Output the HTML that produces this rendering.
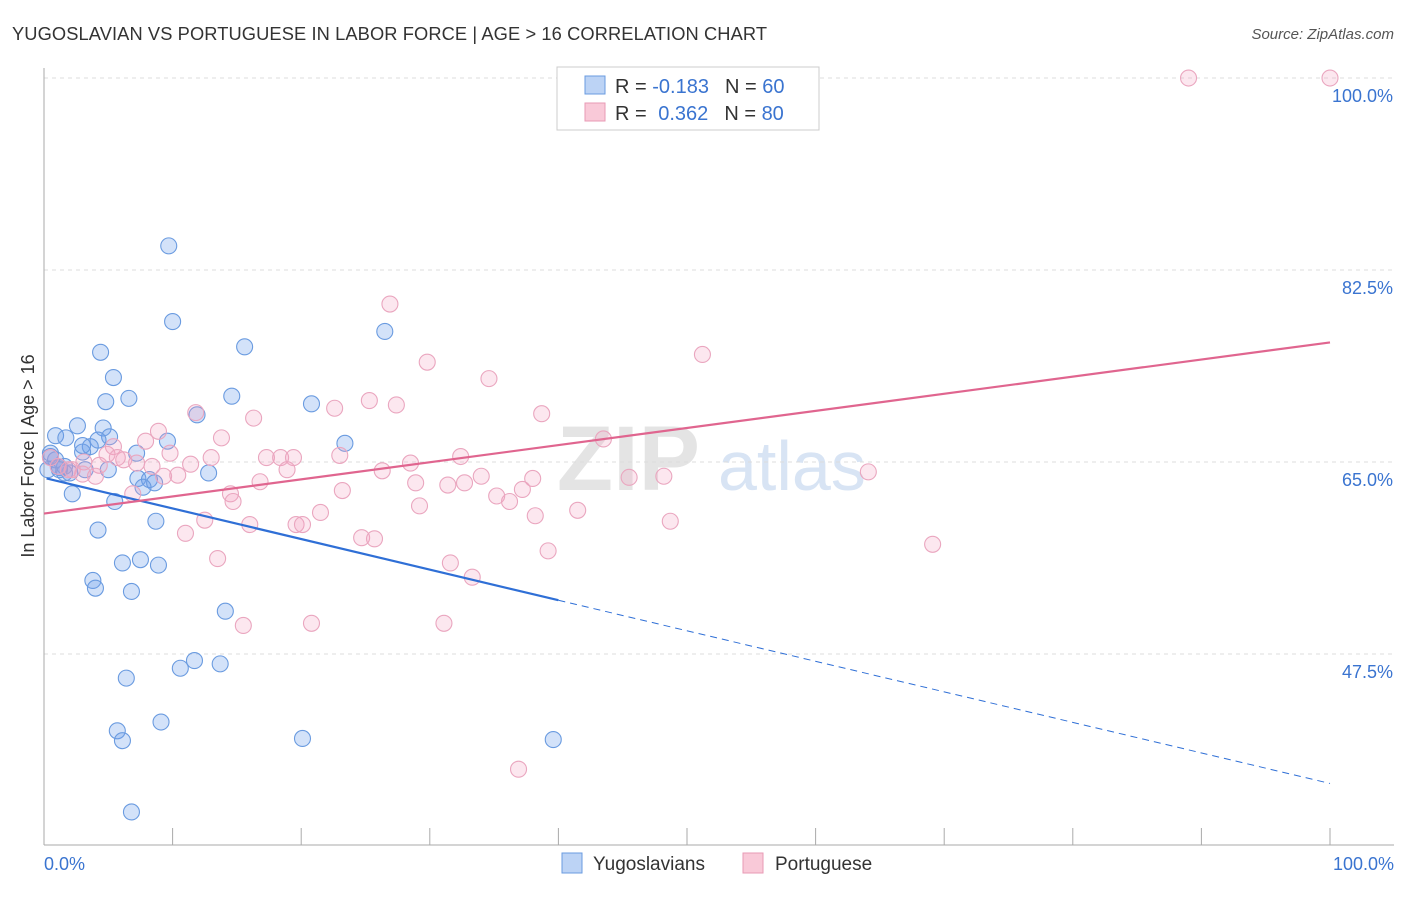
<!DOCTYPE html>
<html><head><meta charset="utf-8"><style>
body{margin:0;background:#fff;font-family:"Liberation Sans",sans-serif;}
svg text{font-family:"Liberation Sans",sans-serif;}
</style></head><body>
<svg id="chart" width="1406" height="892" viewBox="0 0 1406 892">
<text x="12" y="40" font-size="18.3" fill="#333" textLength="755">YUGOSLAVIAN VS PORTUGUESE IN LABOR FORCE | AGE &gt; 16 CORRELATION CHART</text>
<text x="1394" y="39" font-size="15" fill="#555" font-style="italic" text-anchor="end">Source: ZipAtlas.com</text>
<text x="700" y="490" font-size="92" fill="#e4e4e4" font-weight="bold" text-anchor="end" font-family="Liberation Serif">ZIP</text>
<text x="718" y="490" font-size="70" fill="#d8e4f4">atlas</text>
<g id="grid"></g>
<g id="axes"></g>
<g id="marks"></g>
<text transform="translate(34,456) rotate(-90)" font-size="18" fill="#333" text-anchor="middle">In Labor Force | Age &gt; 16</text>
<text x="44" y="870" font-size="18" fill="#3a74d0">0.0%</text>
<text x="1394" y="870" font-size="18" fill="#3a74d0" text-anchor="end">100.0%</text>
<g>
<rect x="557" y="67" width="262" height="63" fill="#fff" stroke="#ccc"/>
<rect x="585" y="76" width="20" height="18" fill="#bcd3f5" stroke="#6a9be0"/>
<rect x="585" y="103" width="20" height="18" fill="#f9c9d8" stroke="#e89ab5"/>
<text x="615" y="93" font-size="20" fill="#333">R = <tspan fill="#3a74d0">-0.183</tspan><tspan dx="16">N = </tspan><tspan fill="#3a74d0">60</tspan></text>
<text x="615" y="120" font-size="20" fill="#333">R = <tspan fill="#3a74d0" dx="6">0.362</tspan><tspan dx="16">N = </tspan><tspan fill="#3a74d0">80</tspan></text>
</g>
<g>
<rect x="562" y="853" width="20" height="20" fill="#bcd3f5" stroke="#6a9be0"/>
<text x="593" y="870" font-size="19" fill="#333">Yugoslavians</text>
<rect x="743" y="853" width="20" height="20" fill="#f9c9d8" stroke="#e89ab5"/>
<text x="775" y="870" font-size="19" fill="#333">Portuguese</text>
</g>
</svg>
<script>
const yTicks=[100,82.5,65,47.5];
const yTickLabels=["100.0%","82.5%","65.0%","47.5%"];
const xTicks=[0,10,20,30,40,50,60,70,80,90,100];
const blueX=[9.7,10.0,4.4,15.6,26.5,5.4,6.6,4.8,14.6,20.8,11.9,2.6,4.6,5.1,0.9,1.7,4.2,3.6,3.0,23.4,9.6,7.2,0.5,0.9,1.2,5.0,1.6,2.0,12.8,7.3,8.2,8.6,7.7,2.2,5.5,8.7,4.2,6.1,7.5,8.9,3.8,4.0,6.8,14.1,11.7,10.6,13.7,6.4,9.1,5.7,6.1,20.1,39.6,6.8,0.5,0.3,1.6,3.2,3.0,1.2];
const blueY=[84.7,77.8,75.0,75.5,76.9,72.7,70.8,70.5,71.0,70.3,69.3,68.3,68.1,67.3,67.4,67.2,67.0,66.4,65.9,66.7,66.9,65.8,65.8,65.2,64.5,64.3,64.0,64.0,64.0,63.5,63.4,63.1,62.7,62.1,61.4,59.6,58.8,55.8,56.1,55.6,54.2,53.5,53.2,51.4,46.9,46.2,46.6,45.3,41.3,40.5,39.6,39.8,39.7,33.1,65.5,64.3,64.6,64.3,66.5,64.3];
const pinkX=[89.0,100,26.9,51.2,29.8,34.6,25.3,27.4,22.6,38.7,11.8,16.3,8.9,43.5,7.9,13.8,9.8,5.4,4.9,17.3,18.4,19.4,23.0,32.4,13.0,11.4,6.2,7.2,8.4,10.4,9.3,4.3,3.1,1.9,3.0,4.0,18.9,26.3,28.5,34.0,38.0,45.5,48.2,64.1,16.8,28.9,31.4,32.7,35.2,37.2,36.2,23.2,14.5,14.7,6.9,29.2,21.5,41.5,38.2,48.7,12.5,16.0,19.6,20.1,11.0,24.7,25.7,39.2,69.1,31.6,13.5,33.3,15.5,20.8,31.1,36.9,2.2,1.1,0.5,5.7];
const pinkY=[100,100,79.4,74.8,74.1,72.6,70.6,70.2,69.9,69.4,69.5,69.0,67.8,67.1,66.9,67.2,65.8,66.4,65.7,65.4,65.4,65.4,65.6,65.5,65.4,64.8,65.2,64.9,64.6,63.8,63.7,64.7,65.0,64.3,63.9,63.7,64.3,64.2,64.9,63.7,63.5,63.6,63.7,64.1,63.2,63.1,62.9,63.1,61.9,62.5,61.4,62.4,62.1,61.4,62.1,61.0,60.4,60.6,60.1,59.6,59.7,59.3,59.3,59.3,58.5,58.1,58.0,56.9,57.5,55.8,56.2,54.5,50.1,50.3,50.3,37.0,64.3,64.6,65.4,65.4];
const blueTrendX=[0.2,40,100];
const blueTrendY=[63.5,52.4,35.7];
const pinkTrendX=[0,100];
const pinkTrendY=[60.3,75.9];

const NS="http://www.w3.org/2000/svg";
const X=v=>44+v*12.86;
const Y=v=>462-(v-65)*10.971;
function mk(tag,attrs,parent){const e=document.createElementNS(NS,tag);for(const k in attrs)e.setAttribute(k,attrs[k]);parent.appendChild(e);return e;}
const grid=document.getElementById('grid'),axes=document.getElementById('axes'),marks=document.getElementById('marks');
yTicks.forEach((t,i)=>{
  const l=mk('line',{x1:44,x2:1394,y1:Y(t),y2:Y(t),stroke:'#ddd','stroke-dasharray':'4,4'},grid);
  
  
  const tx=mk('text',{x:1393,y:Y(t)+24,'font-size':18,fill:'#3a74d0','text-anchor':'end'},axes);
  tx.textContent=yTickLabels[i];
  
  
});
const yax=mk('line',{x1:44,x2:44,y1:68,y2:845,stroke:'#aaa'},axes);


const xax=mk('line',{x1:44,x2:1394,y1:845,y2:845,stroke:'#aaa'},axes);


xTicks.forEach(t=>{
  const l=mk('line',{x1:X(t),x2:X(t),y1:828,y2:845,stroke:'#aaa'},axes);
  
  
});
blueX.forEach((v,i)=>{
  const c=mk('circle',{cx:X(v),cy:Y(blueY[i]),r:8,fill:'rgba(110,160,235,0.3)',stroke:'#6a9be0','stroke-width':1.1},marks);
  
  
});
pinkX.forEach((v,i)=>{
  const c=mk('circle',{cx:X(v),cy:Y(pinkY[i]),r:8,fill:'rgba(245,160,190,0.25)',stroke:'#eaa6bf','stroke-width':1.1},marks);
  
  
});
const bt1=mk('line',{x1:X(blueTrendX[0]),y1:Y(blueTrendY[0]),x2:X(blueTrendX[1]),y2:Y(blueTrendY[1]),stroke:'#2f6fd6','stroke-width':2.2},marks);


const bt2=mk('line',{x1:X(blueTrendX[1]),y1:Y(blueTrendY[1]),x2:X(blueTrendX[2]),y2:Y(blueTrendY[2]),stroke:'#2f6fd6','stroke-width':1,'stroke-dasharray':'7,5'},marks);


const pt=mk('line',{x1:X(pinkTrendX[0]),y1:Y(pinkTrendY[0]),x2:X(pinkTrendX[1]),y2:Y(pinkTrendY[1]),stroke:'#e0658f','stroke-width':2.2},marks);


</script>
</body></html>
